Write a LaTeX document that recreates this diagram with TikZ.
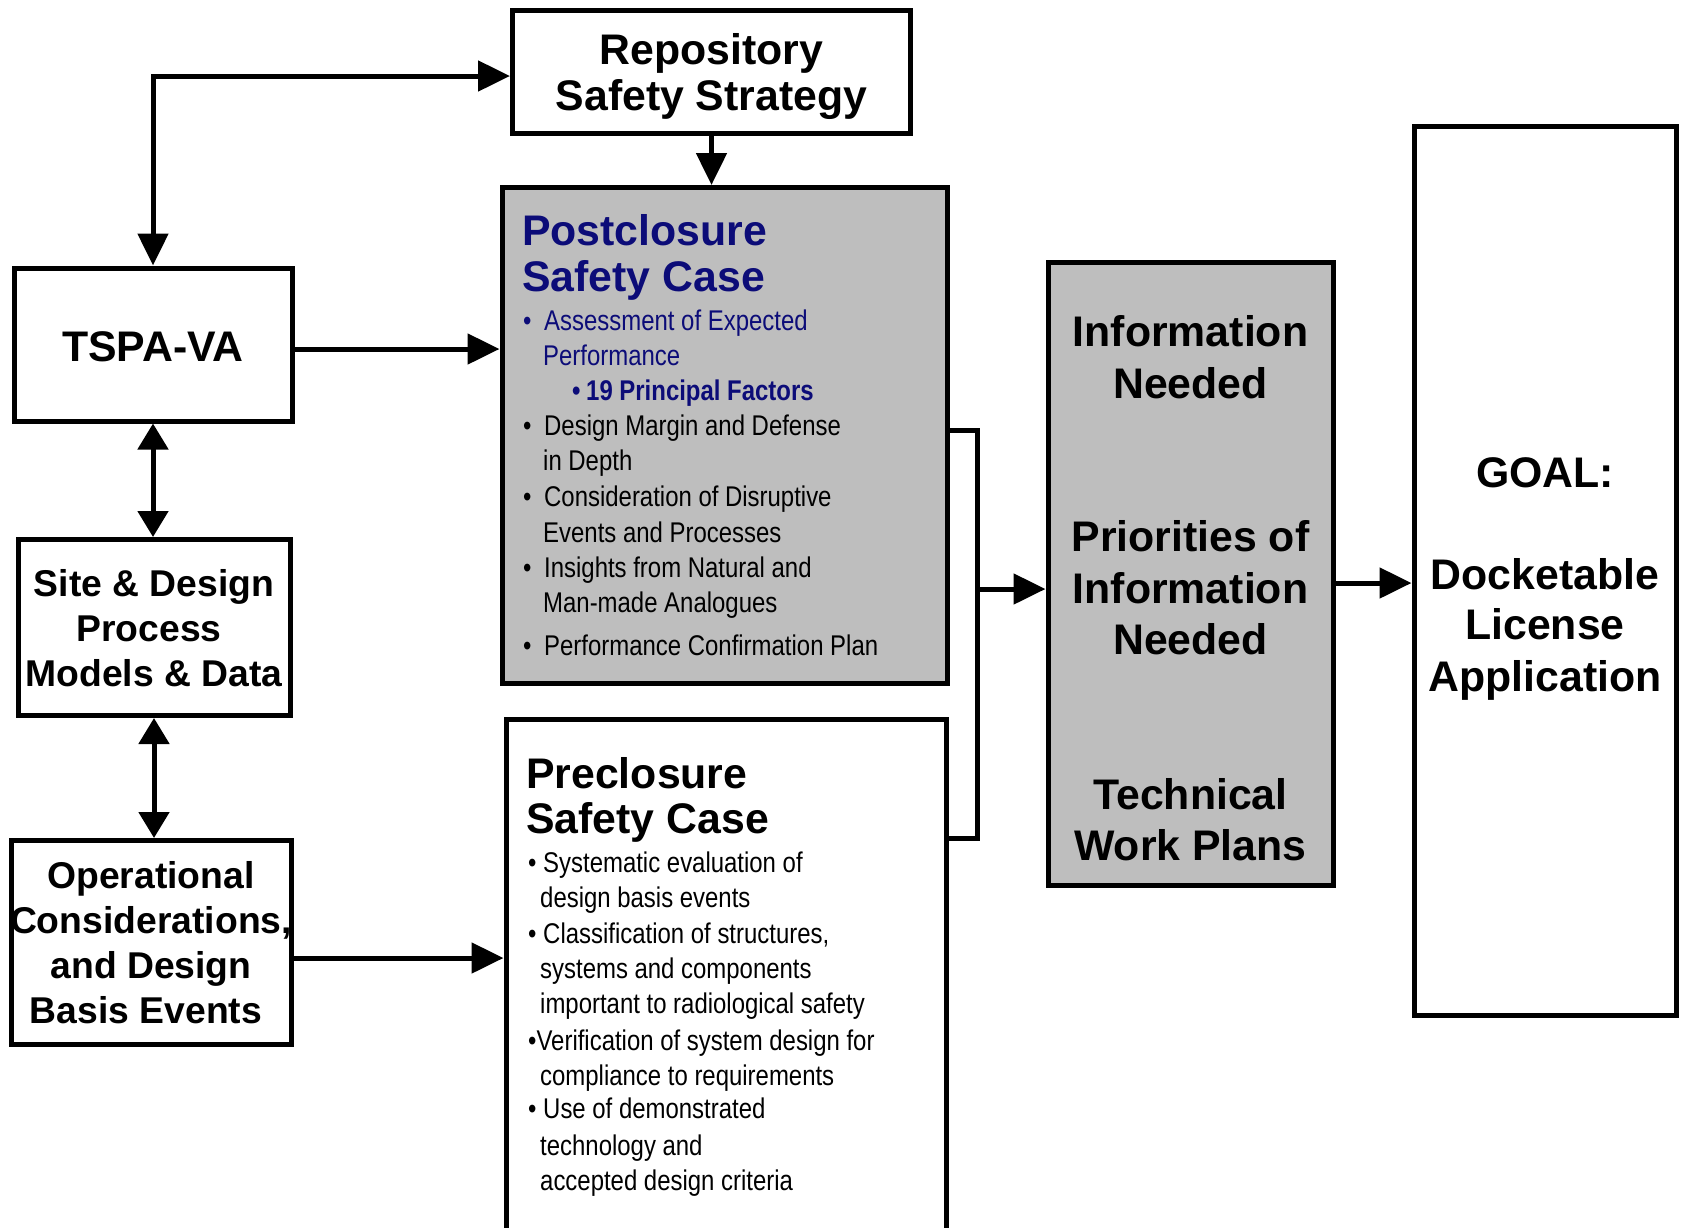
\documentclass[tikz,border=0pt]{standalone}
\usepackage{fontspec}
\setmainfont{Liberation Sans}
\newfontfamily\narrowfont[FakeStretch=0.84]{Liberation Sans}
\usetikzlibrary{arrows.meta,calc}
\definecolor{navy}{RGB}{12,12,120}
\definecolor{boxgray}{RGB}{190,190,190}
\begin{document}
\begin{tikzpicture}[x=1pt,y=-1pt,
  box/.style={draw=black, line width=5pt, inner sep=0pt},
  conn/.style={line width=5pt, -{Triangle[length=32pt,width=30pt]}},
  biconn/.style={line width=5pt, {Triangle[length=26pt,width=30pt]}-{Triangle[length=26pt,width=30pt]}},
  plainline/.style={line width=5pt},
  ttl/.style={font=\fontsize{42.8}{50}\selectfont\bfseries, inner sep=0pt, text height=30.6pt, text depth=0pt},
  lbl/.style={font=\fontsize{37.3}{45}\selectfont\bfseries, inner sep=0pt, text height=26.7pt, text depth=0pt},
  itm/.style={font=\narrowfont\fontsize{28.5}{35}\selectfont, inner sep=0pt, text height=20.4pt, text depth=0pt, anchor=west},
]
\useasboundingbox (0,0) rectangle (1683,1227);
\clip (0,0) rectangle (1683,1227);

% boxes
\node[box, minimum width=398pt, minimum height=123pt] (rep) at (711.5,72) {};
\node[box, fill=boxgray, minimum width=445pt, minimum height=496pt] (post) at (724.5,435.5) {};
\node[box, minimum width=440pt, minimum height=531pt] (pre) at (726,984.5) {};
\node[box, minimum width=278pt, minimum height=153pt] (tspa) at (153,344.5) {};
\node[box, minimum width=272pt, minimum height=176pt] (site) at (154,627.5) {};
\node[box, minimum width=280pt, minimum height=204pt] (op) at (151.5,942.5) {};
\node[box, fill=boxgray, minimum width=285pt, minimum height=623pt] (info) at (1190.5,574) {};
\node[box, minimum width=262pt, minimum height=889pt] (goal) at (1545,571) {};

% Repository
\node[ttl] (repA) at (711.5,49) {Repository};
\node[ttl] (repB) at (711.5,95) {Safety Strategy};

% Postclosure
\node[ttl, anchor=west, text=navy] (postA) at (522,230) {Postclosure};
\node[ttl, anchor=west, text=navy] (postB) at (522,276.5) {Safety Case};
\node[itm, text=navy] (pd1) at (523,320) {•};
\node[itm, text=navy] (pt1) at (544,320) {Assessment of Expected};
\node[itm, text=navy] (pt1b) at (543,355) {Performance};
\node[itm, text=navy, font=\narrowfont\fontsize{28.5}{35}\selectfont\bfseries] (pd1s) at (572,390) {•};
\node[itm, text=navy, font=\narrowfont\fontsize{28.5}{35}\selectfont\bfseries] (pt1s) at (586,390) {19 Principal Factors};
\node[itm] (pd2) at (523,425) {•};
\node[itm] (pt2) at (544,425) {Design Margin and Defense};
\node[itm] (pt2b) at (543,460) {in Depth};
\node[itm] (pd3) at (523,496) {•};
\node[itm] (pt3) at (544,496) {Consideration of Disruptive};
\node[itm] (pt3b) at (543,532) {Events and Processes};
\node[itm] (pd4) at (523,567) {•};
\node[itm] (pt4) at (544,567) {Insights from Natural and};
\node[itm] (pt4b) at (543,602) {Man-made Analogues};
\node[itm] (pd5) at (523,645) {•};
\node[itm] (pt5) at (544,645) {Performance Confirmation Plan};

% Preclosure
\node[ttl, anchor=west] (preA) at (526,773) {Preclosure};
\node[ttl, anchor=west] (preB) at (526,818) {Safety Case};
\node[itm] (q1) at (528,862) {• Systematic evaluation of};
\node[itm] (q1b) at (540,897) {design basis events};
\node[itm] (q2) at (528,933) {• Classification of structures,};
\node[itm] (q2b) at (540,968) {systems and components};
\node[itm] (q2c) at (540,1003) {important to radiological safety};
\node[itm] (q3) at (528,1040) {•Verification of system design for};
\node[itm] (q3b) at (540,1075) {compliance to requirements};
\node[itm] (q4) at (528,1108) {• Use of demonstrated};
\node[itm] (q4b) at (540,1145) {technology and};
\node[itm] (q4c) at (540,1180) {accepted design criteria};

% left column
\node[ttl] (tspaT) at (153,346) {TSPA-VA};
\node[lbl] (siteA) at (154,583) {Site \& Design};
\node[lbl] (siteB) at (149,628) {Process};
\node[lbl] (siteC) at (154,673) {Models \& Data};
\node[lbl] (opA) at (151,875) {Operational};
\node[lbl] (opB) at (151,920) {Considerations,};
\node[lbl] (opC) at (151,965) {and Design};
\node[lbl] (opD) at (146,1010) {Basis Events};

% info box
\node[ttl] (inA) at (1190.5,331) {Information};
\node[ttl] (inB) at (1190.5,383) {Needed};
\node[ttl] (inC) at (1190.5,536) {Priorities of};
\node[ttl] (inD) at (1190.5,588) {Information};
\node[ttl] (inE) at (1190.5,639) {Needed};
\node[ttl] (inF) at (1190.5,794) {Technical};
\node[ttl] (inG) at (1190.5,845) {Work Plans};

% goal box
\node[ttl] (glA) at (1545,472) {GOAL:};
\node[ttl] (glB) at (1545,574) {Docketable};
\node[ttl] (glC) at (1545,624) {License};
\node[ttl] (glD) at (1545,676) {Application};

% connectors
\coordinate (lc) at (153,76);
\draw[biconn, {Triangle[length=32pt,width=30pt]}-{Triangle[length=32pt,width=30pt]}] (tspa.north) -- (lc) -- (lc -| rep.west);
\draw[conn] (rep.south) -- (rep.south |- post.north);
\draw[conn] ([yshift=-4.5pt]tspa.east) -- ([yshift=-4.5pt]tspa.east -| post.west);
\draw[biconn] (tspa.south) -- (tspa.south |- site.north);
\draw[biconn] (site.south) -- (site.south |- op.north);
\draw[conn] ([yshift=-15.5pt]op.east) -- ([yshift=-15.5pt]op.east -| pre.west);
\coordinate (b1) at (977,430);
\coordinate (b2) at (977,838);
\coordinate (bm) at (977,589);
\draw[plainline] (post.east |- b1) -- (b1) -- (b2) -- (pre.east |- b2);
\draw[conn] (bm) -- (bm -| info.west);
\draw[conn] ([yshift=-9pt]info.east) -- ([yshift=-9pt]info.east -| goal.west);
\end{tikzpicture}
\end{document}
